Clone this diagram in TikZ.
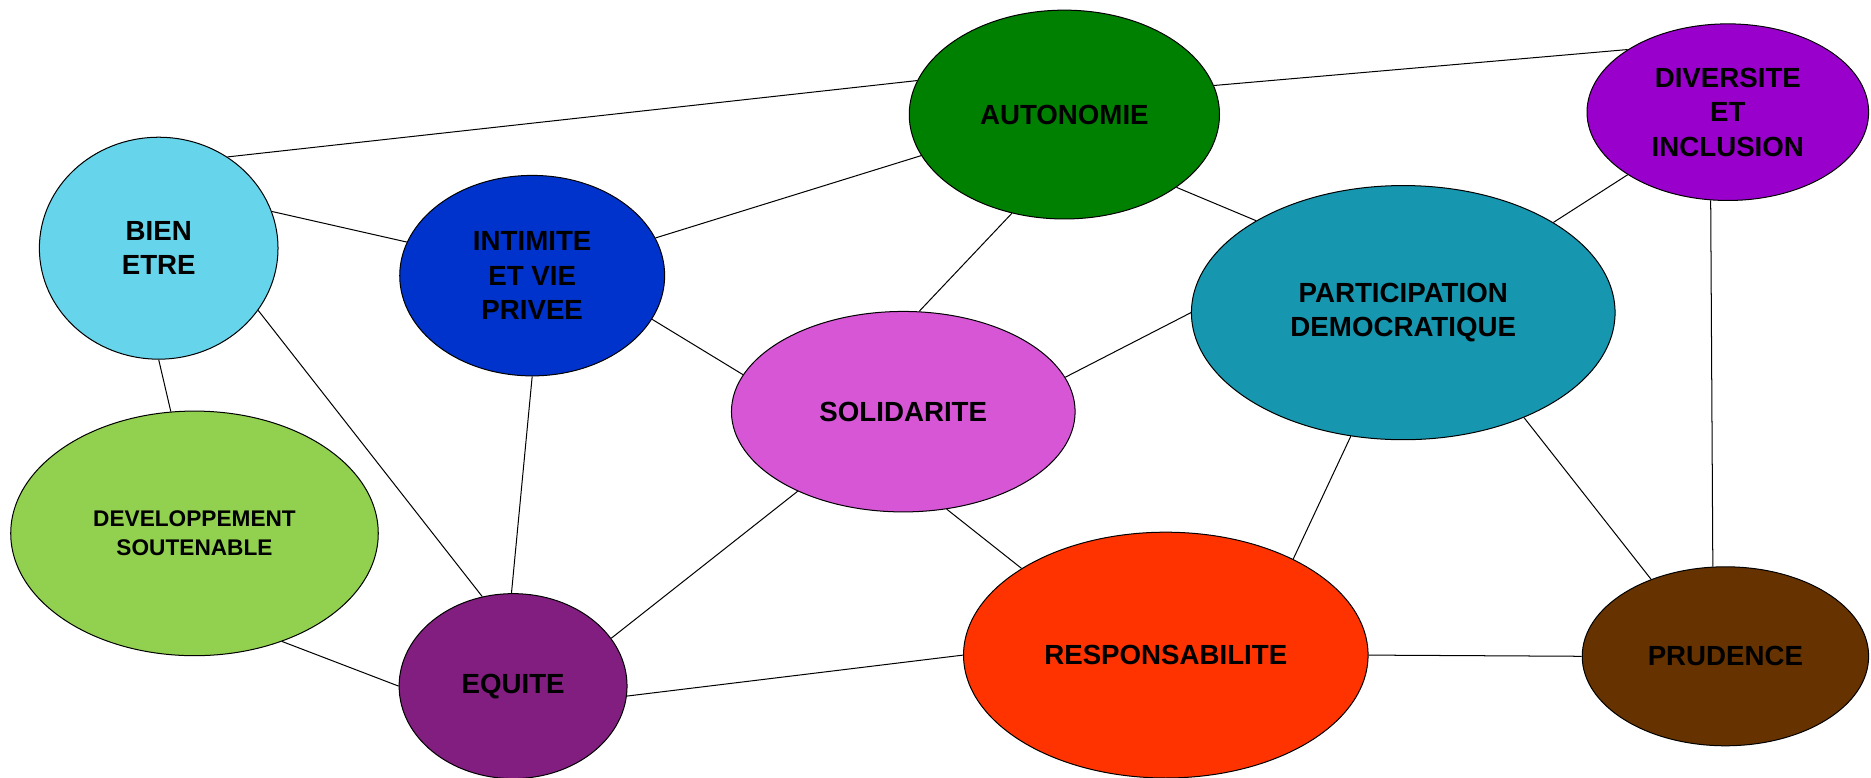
\documentclass[tikz,border=0pt]{standalone}
\usepackage{fontspec}
\setmainfont{Liberation Sans}
\usetikzlibrary{shapes.geometric}
\definecolor{cautonomie}{RGB}{0,128,0}
\definecolor{cdiversite}{RGB}{153,0,204}
\definecolor{cbien}{RGB}{102,212,234}
\definecolor{cintimite}{RGB}{0,51,204}
\definecolor{cparticipation}{RGB}{23,150,175}
\definecolor{csolidarite}{RGB}{214,86,214}
\definecolor{cdevelop}{RGB}{146,208,80}
\definecolor{cequite}{RGB}{130,30,128}
\definecolor{cresponsa}{RGB}{255,51,0}
\definecolor{cprudence}{RGB}{102,51,0}
\begin{document}
\begin{tikzpicture}[x=0.25mm, y=-0.25mm]
	\tikzstyle{valeur}=[ellipse, draw=black, line width=0.6pt, inner sep=0pt, align=center,
		font=\fontsize{16.5}{20.5}\selectfont\bfseries]
	\tikzstyle{lien}=[line width=0.6pt]
	\useasboundingbox (0,0) rectangle (1568,652);
	% Values
	\node at (892,96) [valeur, fill=cautonomie, minimum width=65mm, minimum height=43.75mm] (autonomie) {AUTONOMIE};
	\node at (1448,94) [valeur, fill=cdiversite, minimum width=59mm, minimum height=37mm] (diversite) {DIVERSITE\\ET\\INCLUSION};
	\node at (133,208) [valeur, fill=cbien, minimum width=50mm, minimum height=46.5mm] (bien) {BIEN\\ETRE};
	\node at (446,231) [valeur, fill=cintimite, minimum width=55.5mm, minimum height=42mm] (intimite) {INTIMITE\\ET VIE\\PRIVEE};
	\node at (1176,262) [valeur, fill=cparticipation, minimum width=88.75mm, minimum height=53.25mm] (participation) {PARTICIPATION\\DEMOCRATIQUE};
	\node at (757,345) [valeur, fill=csolidarite, minimum width=72mm, minimum height=42mm] (solidarite) {SOLIDARITE};
	\node at (163,447) [valeur, fill=cdevelop, minimum width=77mm, minimum height=51.25mm,
		font=\fontsize{13.5}{17}\selectfont\bfseries] (developpement) {DEVELOPPEMENT\\SOUTENABLE};
	\node at (430,575) [valeur, fill=cequite, minimum width=47.75mm, minimum height=38.75mm] (equite) {EQUITE};
	\node at (977,549) [valeur, fill=cresponsa, minimum width=84.75mm, minimum height=51.5mm] (responsabilite) {RESPONSABILITE};
	\node at (1446,550) [valeur, fill=cprudence, minimum width=60mm, minimum height=37.5mm] (prudence) {PRUDENCE};
	%---------------------%
	% Links
	\draw [lien] (bien.53.5) -- (autonomie.167.7);
	\draw [lien] (autonomie.11.7) -- (diversite.148);
	\draw [lien] (bien.18.6) -- (intimite.165.6);
	\draw [lien] (intimite.17.3) -- (autonomie.196);
	\draw [lien] (autonomie.-33.5) -- (participation.148.4);
	\draw [lien] (diversite.212.6) -- (participation.31.1);
	\draw [lien] (autonomie.242) -- (solidarite.81);
	\draw [lien] (intimite.-20.8) -- (solidarite.167);
	\draw [lien] (participation.180) -- (solidarite.12);
	\draw [lien] (bien.-90) -- (developpement.101.7);
	\draw [lien] (bien.-32.4) -- (equite.109.4);
	\draw [lien] (intimite.-90) -- (equite.91.5);
	\draw [lien] (solidarite.217.3) -- (equite.26.3);
	\draw [lien] (solidarite.-66.8) -- (responsabilite.149);
	\draw [lien] (participation.-113.5) -- (responsabilite.37);
	\draw [lien] (participation.-41.4) -- (prudence.134);
	\draw [lien] (diversite.-101.5) -- (prudence.98);
	\draw [lien] (developpement.-51.5) -- (equite.180);
	\draw [lien] (equite.-5.4) -- (responsabilite.180);
	\draw [lien] (responsabilite.0) -- (prudence.180);
	%---------------------%
\end{tikzpicture}
\end{document}
